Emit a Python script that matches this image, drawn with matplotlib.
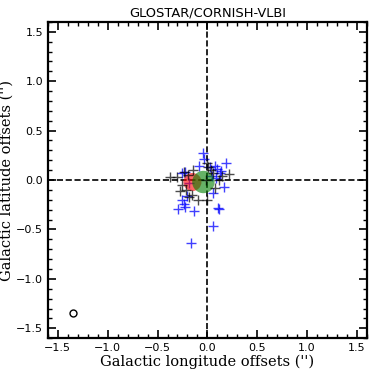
import matplotlib
matplotlib.use("Agg")
import matplotlib.pyplot as plt
import numpy as np
from matplotlib.ticker import MultipleLocator

# GLOSTAR offsets (blue)
blue_x = [-0.04, -0.03, 0.19, -0.08, 0.08, 0.10, 0.13, -0.25, -0.22, 0.17, 0.06,
          -0.25, -0.23, -0.29, -0.22, -0.13, 0.11, 0.12, 0.06, -0.16, 0.03, 0.05,
          -0.18, 0.09, -0.20, 0.14]
blue_y = [0.27, 0.21, 0.17, 0.14, 0.14, 0.11, 0.07, 0.07, 0.08, -0.07, -0.13,
          -0.20, -0.24, -0.29, -0.27, -0.31, -0.28, -0.29, -0.47, -0.64, 0.13, 0.04,
          -0.03, 0.02, -0.16, 0.09]

# CORNISH offsets (black)
black_x = [-0.37, -0.30, -0.23, -0.14, 0.00, 0.01, 0.22, 0.06, -0.27, -0.21,
           -0.18, -0.09, 0.00, 0.08, -0.15, -0.19, -0.25, 0.12,
           0.04, 0.15, -0.01]
black_y = [0.03, 0.03, 0.08, 0.10, 0.17, 0.13, 0.06, 0.07, -0.11, -0.10,
           -0.17, -0.20, -0.20, -0.08, -0.15, 0.05, -0.05, 0.00,
           0.10, 0.04, 0.00]

# mean offsets (filled)
red_x = [-0.15]
red_y = [-0.02]
green_x = [-0.04]
green_y = [-0.02]

beam_x = [-1.35]
beam_y = [-1.35]

fig = plt.figure(figsize=(3.74, 3.77), dpi=100)
ax = fig.add_axes([0.128, 0.103, 0.853, 0.839])

ax.axhline(0, color='k', ls='--', lw=1.2, zorder=1)
ax.axvline(0, color='k', ls='--', lw=1.2, zorder=1)

ax.plot(blue_x, blue_y, '+', color='blue', ms=7, mew=1, alpha=0.75, zorder=2)
ax.scatter(red_x, red_y, s=170, color='red', alpha=0.6, edgecolors='none', zorder=3)
ax.scatter(green_x, green_y, s=260, color='green', alpha=0.6, edgecolors='none', zorder=4)
ax.plot(black_x, black_y, '+', color='k', ms=7, mew=1, alpha=0.7, zorder=5)
ax.plot(beam_x, beam_y, 'o', mfc='none', mec='k', ms=5, mew=1)

ax.set_xlim(-1.6, 1.6)
ax.set_ylim(-1.6, 1.6)
ax.xaxis.set_major_locator(MultipleLocator(0.5))
ax.yaxis.set_major_locator(MultipleLocator(0.5))
ax.xaxis.set_minor_locator(MultipleLocator(0.1))
ax.yaxis.set_minor_locator(MultipleLocator(0.1))
ax.tick_params(which='both', direction='in', top=True, right=True, labelsize=8)
ax.tick_params(which='major', length=6, width=1.2)
ax.tick_params(which='minor', length=3, width=1)
for s in ax.spines.values():
    s.set_linewidth(1.6)

ax.set_title('GLOSTAR/CORNISH-VLBI', fontsize=9.4, pad=4)
ax.set_xlabel("Galactic longitude offsets ('')", family='DejaVu Serif', fontsize=10.5, labelpad=1)
ax.set_ylabel("Galactic latitude offsets ('')", family='DejaVu Serif', fontsize=10.5, labelpad=2)

fig.savefig('out.png', dpi=100)
